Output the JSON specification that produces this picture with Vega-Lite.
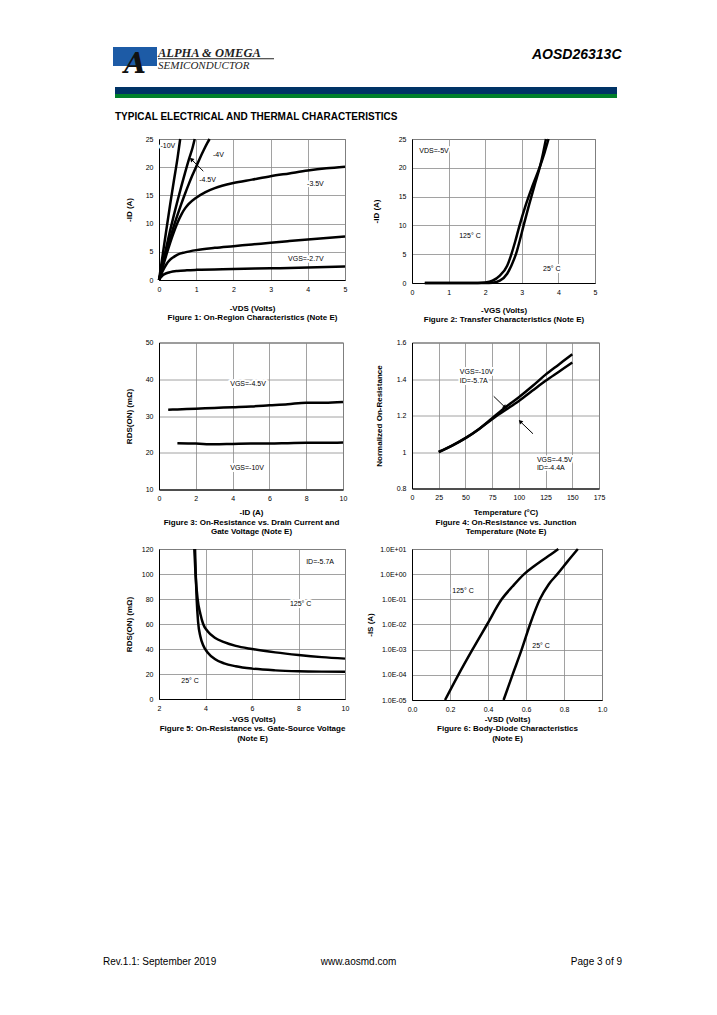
{
  "$schema": "https://vega.github.io/schema/vega-lite/v6.json",
  "background": "#ffffff",
  "padding": {"left": 102, "top": 46, "right": 0, "bottom": 0},
  "columns": 2,
  "bounds": "flush",
  "spacing": {"row": 59.5, "column": 67},
  "datasets": {
    "hRect": [
      {"part": "logo", "px": 112, "px2": 156, "py": 46, "py2": 65},
      {"part": "band1", "px": 114, "px2": 616, "py": 86, "py2": 93},
      {"part": "band2", "px": 114, "px2": 616, "py": 93, "py2": 97},
      {"part": "rule", "px": 157, "px2": 273, "py": 57.3, "py2": 58.3}
    ],
    "hText": [
      {"k": "logo", "t": "A", "px": 134, "py": 72},
      {"k": "alpha", "t": "ALPHA & OMEGA", "px": 157, "py": 56},
      {"k": "semi", "t": "SEMICONDUCTOR", "px": 157, "py": 68},
      {"k": "part", "t": "AOSD26313C", "px": 620.5, "py": 58.3},
      {"k": "title", "t": "TYPICAL ELECTRICAL AND THERMAL CHARACTERISTICS", "px": 114, "py": 118.5},
      {"k": "fl", "t": "Rev.1.1: September 2019", "px": 102, "py": 964},
      {"k": "fc", "t": "www.aosmd.com", "px": 357.5, "py": 964},
      {"k": "fr", "t": "Page 3 of 9", "px": 621, "py": 964}
    ],
    "f1": [
      {"s": "-10V", "x": 0, "y": 0}, {"s": "-10V", "x": 0.1, "y": 4.5}, {"s": "-10V", "x": 0.2, "y": 9}, {"s": "-10V", "x": 0.3, "y": 13.4}, {"s": "-10V", "x": 0.4, "y": 17.6}, {"s": "-10V", "x": 0.5, "y": 21.7}, {"s": "-10V", "x": 0.57, "y": 25},
      {"s": "-4.5V", "x": 0, "y": 0}, {"s": "-4.5V", "x": 0.1, "y": 3.0}, {"s": "-4.5V", "x": 0.2, "y": 5.9}, {"s": "-4.5V", "x": 0.3, "y": 8.8}, {"s": "-4.5V", "x": 0.4, "y": 11.5}, {"s": "-4.5V", "x": 0.5, "y": 14.1}, {"s": "-4.5V", "x": 0.6, "y": 16.6}, {"s": "-4.5V", "x": 0.7, "y": 19}, {"s": "-4.5V", "x": 0.8, "y": 21.3}, {"s": "-4.5V", "x": 0.9, "y": 23.4}, {"s": "-4.5V", "x": 0.96, "y": 25},
      {"s": "-4V", "x": 0, "y": 0}, {"s": "-4V", "x": 0.1, "y": 2.6}, {"s": "-4V", "x": 0.2, "y": 5.1}, {"s": "-4V", "x": 0.3, "y": 7.4}, {"s": "-4V", "x": 0.4, "y": 9.6}, {"s": "-4V", "x": 0.5, "y": 11.6}, {"s": "-4V", "x": 0.6, "y": 13.5}, {"s": "-4V", "x": 0.7, "y": 15.3}, {"s": "-4V", "x": 0.8, "y": 17}, {"s": "-4V", "x": 0.9, "y": 18.6}, {"s": "-4V", "x": 1.0, "y": 20.1}, {"s": "-4V", "x": 1.1, "y": 21.6}, {"s": "-4V", "x": 1.2, "y": 23}, {"s": "-4V", "x": 1.3, "y": 24.3}, {"s": "-4V", "x": 1.36, "y": 25},
      {"s": "-3.5V", "x": 0, "y": 0}, {"s": "-3.5V", "x": 0.1, "y": 2.3}, {"s": "-3.5V", "x": 0.2, "y": 4.5}, {"s": "-3.5V", "x": 0.3, "y": 6.6}, {"s": "-3.5V", "x": 0.4, "y": 8.5}, {"s": "-3.5V", "x": 0.5, "y": 10.2}, {"s": "-3.5V", "x": 0.6, "y": 11.6}, {"s": "-3.5V", "x": 0.7, "y": 12.7}, {"s": "-3.5V", "x": 0.8, "y": 13.5}, {"s": "-3.5V", "x": 1.0, "y": 14.6}, {"s": "-3.5V", "x": 1.25, "y": 15.6}, {"s": "-3.5V", "x": 1.5, "y": 16.3}, {"s": "-3.5V", "x": 2, "y": 17.2}, {"s": "-3.5V", "x": 2.5, "y": 17.8}, {"s": "-3.5V", "x": 3, "y": 18.4}, {"s": "-3.5V", "x": 3.5, "y": 18.9}, {"s": "-3.5V", "x": 4, "y": 19.4}, {"s": "-3.5V", "x": 4.5, "y": 19.8}, {"s": "-3.5V", "x": 5, "y": 20.1},
      {"s": "-3V", "x": 0, "y": 0}, {"s": "-3V", "x": 0.1, "y": 1.6}, {"s": "-3V", "x": 0.2, "y": 2.8}, {"s": "-3V", "x": 0.3, "y": 3.6}, {"s": "-3V", "x": 0.4, "y": 4.1}, {"s": "-3V", "x": 0.5, "y": 4.5}, {"s": "-3V", "x": 0.7, "y": 4.9}, {"s": "-3V", "x": 1, "y": 5.3}, {"s": "-3V", "x": 1.5, "y": 5.7}, {"s": "-3V", "x": 2, "y": 6.0}, {"s": "-3V", "x": 2.5, "y": 6.3}, {"s": "-3V", "x": 3, "y": 6.6}, {"s": "-3V", "x": 3.5, "y": 6.9}, {"s": "-3V", "x": 4, "y": 7.2}, {"s": "-3V", "x": 4.5, "y": 7.45}, {"s": "-3V", "x": 5, "y": 7.7},
      {"s": "-2.7V", "x": 0, "y": 0}, {"s": "-2.7V", "x": 0.05, "y": 0.5}, {"s": "-2.7V", "x": 0.1, "y": 0.85}, {"s": "-2.7V", "x": 0.2, "y": 1.2}, {"s": "-2.7V", "x": 0.3, "y": 1.4}, {"s": "-2.7V", "x": 0.5, "y": 1.6}, {"s": "-2.7V", "x": 0.75, "y": 1.72}, {"s": "-2.7V", "x": 1, "y": 1.8}, {"s": "-2.7V", "x": 2, "y": 1.95}, {"s": "-2.7V", "x": 3, "y": 2.07}, {"s": "-2.7V", "x": 4, "y": 2.2}, {"s": "-2.7V", "x": 5, "y": 2.38}
    ],
    "f1lab": [
      {"t": "-10V", "x": 0.04, "y": 23.8},
      {"t": "-4V", "x": 1.45, "y": 22.2},
      {"t": "-4.5V", "x": 1.08, "y": 17.8},
      {"t": "-3.5V", "x": 3.98, "y": 17.0},
      {"t": "VGS=-2.7V", "x": 3.47, "y": 3.7}
    ],
    "f1arr": [
      {"x": 0.87, "y": 21.4, "x2": 1.19, "y2": 19.3, "dir": "ul"}
    ],
    "f2": [
      {"s": "125C", "x": 0.35, "y": 0}, {"s": "125C", "x": 1.0, "y": 0}, {"s": "125C", "x": 1.8, "y": 0}, {"s": "125C", "x": 2.0, "y": 0.08}, {"s": "125C", "x": 2.2, "y": 0.4}, {"s": "125C", "x": 2.4, "y": 1.3}, {"s": "125C", "x": 2.6, "y": 3.0}, {"s": "125C", "x": 2.71, "y": 4.9}, {"s": "125C", "x": 2.82, "y": 7.2}, {"s": "125C", "x": 2.93, "y": 9.8}, {"s": "125C", "x": 3.1, "y": 13.4}, {"s": "125C", "x": 3.3, "y": 17}, {"s": "125C", "x": 3.5, "y": 20.3}, {"s": "125C", "x": 3.62, "y": 22.6}, {"s": "125C", "x": 3.73, "y": 25},
      {"s": "25C", "x": 0.35, "y": 0}, {"s": "25C", "x": 1.0, "y": 0}, {"s": "25C", "x": 2.0, "y": 0}, {"s": "25C", "x": 2.2, "y": 0.05}, {"s": "25C", "x": 2.4, "y": 0.4}, {"s": "25C", "x": 2.6, "y": 1.6}, {"s": "25C", "x": 2.72, "y": 3.1}, {"s": "25C", "x": 2.84, "y": 5}, {"s": "25C", "x": 2.95, "y": 7.5}, {"s": "25C", "x": 3.05, "y": 10}, {"s": "25C", "x": 3.2, "y": 13.6}, {"s": "25C", "x": 3.35, "y": 17}, {"s": "25C", "x": 3.5, "y": 20.3}, {"s": "25C", "x": 3.58, "y": 22.5}, {"s": "25C", "x": 3.66, "y": 25}
    ],
    "f2lab": [
      {"t": "VDS=-5V", "x": 0.2, "y": 23.0},
      {"t": "125° C", "x": 1.29, "y": 8.1},
      {"t": "25° C", "x": 3.58, "y": 2.5}
    ],
    "f3": [
      {"s": "-4.5V", "x": 0.5, "y": 31.7}, {"s": "-4.5V", "x": 1, "y": 31.8}, {"s": "-4.5V", "x": 2, "y": 32.0}, {"s": "-4.5V", "x": 3, "y": 32.2}, {"s": "-4.5V", "x": 4, "y": 32.4}, {"s": "-4.5V", "x": 5, "y": 32.6}, {"s": "-4.5V", "x": 6, "y": 32.9}, {"s": "-4.5V", "x": 7, "y": 33.2}, {"s": "-4.5V", "x": 8, "y": 33.6}, {"s": "-4.5V", "x": 9, "y": 33.6}, {"s": "-4.5V", "x": 10, "y": 33.8},
      {"s": "-10V", "x": 1, "y": 22.6}, {"s": "-10V", "x": 2, "y": 22.5}, {"s": "-10V", "x": 3, "y": 22.3}, {"s": "-10V", "x": 4, "y": 22.4}, {"s": "-10V", "x": 5, "y": 22.5}, {"s": "-10V", "x": 6, "y": 22.5}, {"s": "-10V", "x": 7, "y": 22.6}, {"s": "-10V", "x": 8, "y": 22.7}, {"s": "-10V", "x": 9, "y": 22.7}, {"s": "-10V", "x": 10, "y": 22.8}
    ],
    "f3lab": [
      {"t": "VGS=-4.5V", "x": 3.87, "y": 38.8},
      {"t": "VGS=-10V", "x": 3.87, "y": 15.8}
    ],
    "f4": [
      {"s": "-10V", "x": 25, "y": 1.0}, {"s": "-10V", "x": 37.5, "y": 1.035}, {"s": "-10V", "x": 50, "y": 1.076}, {"s": "-10V", "x": 62.5, "y": 1.125}, {"s": "-10V", "x": 75, "y": 1.185}, {"s": "-10V", "x": 87.5, "y": 1.245}, {"s": "-10V", "x": 100, "y": 1.3}, {"s": "-10V", "x": 112.5, "y": 1.36}, {"s": "-10V", "x": 125, "y": 1.424}, {"s": "-10V", "x": 137.5, "y": 1.48}, {"s": "-10V", "x": 150, "y": 1.536},
      {"s": "-4.5V", "x": 25, "y": 1.0}, {"s": "-4.5V", "x": 37.5, "y": 1.035}, {"s": "-4.5V", "x": 50, "y": 1.076}, {"s": "-4.5V", "x": 62.5, "y": 1.125}, {"s": "-4.5V", "x": 75, "y": 1.18}, {"s": "-4.5V", "x": 87.5, "y": 1.23}, {"s": "-4.5V", "x": 100, "y": 1.28}, {"s": "-4.5V", "x": 112.5, "y": 1.335}, {"s": "-4.5V", "x": 125, "y": 1.39}, {"s": "-4.5V", "x": 137.5, "y": 1.44}, {"s": "-4.5V", "x": 150, "y": 1.49}
    ],
    "f4lab": [
      {"t": "VGS=-10V", "x": 44.8, "y": 1.436},
      {"t": "ID=-5.7A", "x": 44.8, "y": 1.389},
      {"t": "VGS=-4.5V", "x": 116.9, "y": 0.958},
      {"t": "ID=-4.4A", "x": 116.9, "y": 0.913}
    ],
    "f4arr": [
      {"x": 87.1, "y": 1.245, "x2": 76.5, "y2": 1.305, "dir": "dr"},
      {"x": 101.3, "y": 1.167, "x2": 113.2, "y2": 1.1, "dir": "ul"}
    ],
    "f5": [
      {"s": "125C", "x": 3.52, "y": 120}, {"s": "125C", "x": 3.57, "y": 100}, {"s": "125C", "x": 3.66, "y": 80}, {"s": "125C", "x": 3.78, "y": 68}, {"s": "125C", "x": 3.9, "y": 60}, {"s": "125C", "x": 4.1, "y": 54}, {"s": "125C", "x": 4.4, "y": 49}, {"s": "125C", "x": 4.8, "y": 45.5}, {"s": "125C", "x": 5.3, "y": 42.5}, {"s": "125C", "x": 6, "y": 40}, {"s": "125C", "x": 7, "y": 37.3}, {"s": "125C", "x": 8, "y": 35.2}, {"s": "125C", "x": 9, "y": 33.5}, {"s": "125C", "x": 10, "y": 32.3},
      {"s": "25C", "x": 3.55, "y": 120}, {"s": "25C", "x": 3.58, "y": 100}, {"s": "25C", "x": 3.62, "y": 80}, {"s": "25C", "x": 3.68, "y": 62}, {"s": "25C", "x": 3.78, "y": 50}, {"s": "25C", "x": 3.9, "y": 43}, {"s": "25C", "x": 4.1, "y": 37}, {"s": "25C", "x": 4.4, "y": 32}, {"s": "25C", "x": 4.8, "y": 28.5}, {"s": "25C", "x": 5.3, "y": 26.2}, {"s": "25C", "x": 6, "y": 24.3}, {"s": "25C", "x": 7, "y": 22.9}, {"s": "25C", "x": 8, "y": 22.2}, {"s": "25C", "x": 9, "y": 21.9}, {"s": "25C", "x": 10, "y": 21.8}
    ],
    "f5lab": [
      {"t": "ID=-5.7A", "x": 8.33, "y": 109.5},
      {"t": "125° C", "x": 7.63, "y": 75.9},
      {"t": "25° C", "x": 2.96, "y": 14.5}
    ],
    "f6": [
      {"s": "125C", "x": 0.174, "y": 0.00001}, {"s": "125C", "x": 0.244, "y": 0.0001}, {"s": "125C", "x": 0.318, "y": 0.001}, {"s": "125C", "x": 0.395, "y": 0.01}, {"s": "125C", "x": 0.472, "y": 0.1}, {"s": "125C", "x": 0.53, "y": 0.33}, {"s": "125C", "x": 0.59, "y": 1}, {"s": "125C", "x": 0.64, "y": 2}, {"s": "125C", "x": 0.682, "y": 3.4}, {"s": "125C", "x": 0.73, "y": 6}, {"s": "125C", "x": 0.77, "y": 10},
      {"s": "25C", "x": 0.482, "y": 0.00001}, {"s": "25C", "x": 0.529, "y": 0.0001}, {"s": "25C", "x": 0.577, "y": 0.001}, {"s": "25C", "x": 0.621, "y": 0.01}, {"s": "25C", "x": 0.673, "y": 0.1}, {"s": "25C", "x": 0.72, "y": 0.4}, {"s": "25C", "x": 0.765, "y": 1}, {"s": "25C", "x": 0.82, "y": 3.3}, {"s": "25C", "x": 0.873, "y": 10}
    ],
    "f6lab": [
      {"t": "125° C", "x": 0.212, "y": 0.21},
      {"t": "25° C", "x": 0.633, "y": 0.00136}
    ]
  },
  "concat": [
    {
      "width": 186, "height": 141,
      "resolve": {"scale": {"x": "independent", "y": "independent"}},
      "layer": [
        {
          "encoding": {
            "x": {"field": "x", "type": "quantitative", "scale": {"domain": [0, 5], "nice": false, "zero": false}, "axis": {"values": [0, 1, 2, 3, 4, 5], "title": ["-VDS (Volts)", "Figure 1: On-Region Characteristics (Note E)"], "titlePadding": 12}},
            "y": {"field": "y", "type": "quantitative", "scale": {"domain": [0, 25], "nice": false}, "axis": {"values": [0, 5, 10, 15, 20, 25], "title": "-ID (A)", "titlePadding": 12}}
          },
          "layer": [
            {"data": {"name": "f1"}, "mark": {"type": "line", "color": "#000", "strokeWidth": 2.5, "interpolate": "monotone"}, "encoding": {"detail": {"field": "s"}}},
            {"data": {"name": "f1lab"}, "encoding": {"text": {"field": "t"}}, "layer": [
              {"mark": {"type": "text", "align": "left", "baseline": "middle", "fontSize": 7, "color": "#fff", "stroke": "#fff", "strokeWidth": 4, "strokeJoin": "round"}},
              {"mark": {"type": "text", "align": "left", "baseline": "middle", "fontSize": 7, "color": "#000"}}
            ]},
            {"data": {"name": "f1arr"}, "layer": [
              {"mark": {"type": "rule", "color": "#000", "strokeWidth": 1}, "encoding": {"x2": {"field": "x2"}, "y2": {"field": "y2"}}},
              {"mark": {"type": "point", "shape": "triangle-up", "filled": true, "color": "#000", "size": 22, "opacity": 1}, "encoding": {"angle": {"field": "dir", "type": "nominal", "scale": {"domain": ["ul", "dr"], "range": [315, 135]}, "legend": null}}}
            ]}
          ]
        },
        {
          "encoding": {
            "x": {"field": "px", "type": "quantitative", "scale": {"domain": [158, 344], "nice": false, "zero": false}, "axis": null},
            "y": {"field": "py", "type": "quantitative", "scale": {"domain": [138, 279], "nice": false, "zero": false, "reverse": true}, "axis": null}
          },
          "layer": [
            {"data": {"name": "hRect"}, "mark": {"type": "rect"}, "encoding": {"x2": {"field": "px2"}, "y2": {"field": "py2"}, "color": {"field": "part", "type": "nominal", "scale": {"domain": ["logo", "band1", "band2", "rule"], "range": ["#1d5ba6", "#003366", "#00802b", "#222222"]}, "legend": null}}},
            {"data": {"name": "hText"}, "encoding": {"text": {"field": "t"}}, "layer": [
              {"transform": [{"filter": "datum.k == 'logo'"}], "mark": {"type": "text", "font": "DejaVu Serif", "fontStyle": "italic", "fontWeight": "bold", "fontSize": 28, "align": "center", "baseline": "alphabetic", "color": "#111"}},
              {"transform": [{"filter": "datum.k == 'alpha'"}], "mark": {"type": "text", "font": "Liberation Serif", "fontStyle": "italic", "fontWeight": "bold", "fontSize": 12.5, "align": "left", "baseline": "alphabetic", "color": "#222"}},
              {"transform": [{"filter": "datum.k == 'semi'"}], "mark": {"type": "text", "font": "Liberation Serif", "fontStyle": "italic", "fontSize": 11, "align": "left", "baseline": "alphabetic", "color": "#222"}},
              {"transform": [{"filter": "datum.k == 'part'"}], "mark": {"type": "text", "font": "Liberation Sans", "fontStyle": "italic", "fontWeight": "bold", "fontSize": 14, "align": "right", "baseline": "alphabetic", "color": "#000"}},
              {"transform": [{"filter": "datum.k == 'title'"}], "mark": {"type": "text", "font": "Liberation Sans", "fontWeight": "bold", "fontSize": 10, "align": "left", "baseline": "alphabetic", "color": "#000"}},
              {"transform": [{"filter": "datum.k == 'fl'"}], "mark": {"type": "text", "fontSize": 10, "align": "left", "baseline": "alphabetic", "color": "#000"}},
              {"transform": [{"filter": "datum.k == 'fc'"}], "mark": {"type": "text", "fontSize": 10, "align": "center", "baseline": "alphabetic", "color": "#000"}},
              {"transform": [{"filter": "datum.k == 'fr'"}], "mark": {"type": "text", "fontSize": 10, "align": "right", "baseline": "alphabetic", "color": "#000"}}
            ]}
          ]
        }
      ]
    },
    {
      "width": 183, "height": 144,
      "encoding": {
        "x": {"field": "x", "type": "quantitative", "scale": {"domain": [0, 5], "nice": false, "zero": false}, "axis": {"values": [0, 1, 2, 3, 4, 5], "title": ["-VGS (Volts)", "Figure 2: Transfer Characteristics (Note E)"], "titlePadding": 11}},
        "y": {"field": "y", "type": "quantitative", "scale": {"domain": [0, 25], "nice": false}, "axis": {"values": [0, 5, 10, 15, 20, 25], "title": "-ID (A)", "titlePadding": 18}}
      },
      "layer": [
        {"data": {"name": "f2"}, "mark": {"type": "line", "color": "#000", "strokeWidth": 2.5, "interpolate": "monotone"}, "encoding": {"detail": {"field": "s"}}},
        {"data": {"name": "f2lab"}, "encoding": {"text": {"field": "t"}}, "layer": [
          {"mark": {"type": "text", "align": "left", "baseline": "middle", "fontSize": 7, "color": "#fff", "stroke": "#fff", "strokeWidth": 4, "strokeJoin": "round"}},
          {"mark": {"type": "text", "align": "left", "baseline": "middle", "fontSize": 7, "color": "#000"}}
        ]}
      ]
    },
    {
      "width": 184, "height": 147,
      "encoding": {
        "x": {"field": "x", "type": "quantitative", "scale": {"domain": [0, 10], "nice": false, "zero": false}, "axis": {"values": [0, 2, 4, 6, 8, 10], "title": ["-ID (A)", "Figure 3: On-Resistance vs. Drain Current and", "Gate Voltage (Note E)"], "titlePadding": 7}},
        "y": {"field": "y", "type": "quantitative", "scale": {"domain": [10, 50], "nice": false, "zero": false}, "axis": {"values": [10, 20, 30, 40, 50], "title": "RDS(ON) (mΩ)", "titlePadding": 12}}
      },
      "layer": [
        {"data": {"name": "f3"}, "mark": {"type": "line", "color": "#000", "strokeWidth": 2.5, "interpolate": "monotone"}, "encoding": {"detail": {"field": "s"}}},
        {"data": {"name": "f3lab"}, "encoding": {"text": {"field": "t"}}, "layer": [
          {"mark": {"type": "text", "align": "left", "baseline": "middle", "fontSize": 7, "color": "#fff", "stroke": "#fff", "strokeWidth": 4, "strokeJoin": "round"}},
          {"mark": {"type": "text", "align": "left", "baseline": "middle", "fontSize": 7, "color": "#000"}}
        ]}
      ]
    },
    {
      "width": 187, "height": 146,
      "encoding": {
        "x": {"field": "x", "type": "quantitative", "scale": {"domain": [0, 175], "nice": false, "zero": false}, "axis": {"values": [0, 25, 50, 75, 100, 125, 150, 175], "title": ["Temperature (°C)", "Figure 4: On-Resistance vs. Junction", "Temperature (Note E)"], "titlePadding": 8}},
        "y": {"field": "y", "type": "quantitative", "scale": {"domain": [0.8, 1.6], "nice": false, "zero": false}, "axis": {"values": [0.8, 1, 1.2, 1.4, 1.6], "format": "~g", "title": "Normalized On-Resistance", "titlePadding": 13}}
      },
      "layer": [
        {"data": {"name": "f4"}, "mark": {"type": "line", "color": "#000", "strokeWidth": 2.5, "interpolate": "monotone"}, "encoding": {"detail": {"field": "s"}}},
        {"data": {"name": "f4lab"}, "encoding": {"text": {"field": "t"}}, "layer": [
          {"mark": {"type": "text", "align": "left", "baseline": "middle", "fontSize": 7, "color": "#fff", "stroke": "#fff", "strokeWidth": 4, "strokeJoin": "round"}},
          {"mark": {"type": "text", "align": "left", "baseline": "middle", "fontSize": 7, "color": "#000"}}
        ]},
        {"data": {"name": "f4arr"}, "layer": [
          {"mark": {"type": "rule", "color": "#000", "strokeWidth": 1}, "encoding": {"x2": {"field": "x2"}, "y2": {"field": "y2"}}},
          {"mark": {"type": "point", "shape": "triangle-up", "filled": true, "color": "#000", "size": 22, "opacity": 1}, "encoding": {"angle": {"field": "dir", "type": "nominal", "scale": {"domain": ["ul", "dr"], "range": [315, 135]}, "legend": null}}}
        ]}
      ]
    },
    {
      "width": 186, "height": 150,
      "encoding": {
        "x": {"field": "x", "type": "quantitative", "scale": {"domain": [2, 10], "nice": false, "zero": false}, "axis": {"values": [2, 4, 6, 8, 10], "title": ["-VGS (Volts)", "Figure 5: On-Resistance vs. Gate-Source Voltage", "(Note E)"], "titlePadding": 4}},
        "y": {"field": "y", "type": "quantitative", "scale": {"domain": [0, 120], "nice": false}, "axis": {"values": [0, 20, 40, 60, 80, 100, 120], "title": "RDS(ON) (mΩ)", "titlePadding": 8}}
      },
      "layer": [
        {"data": {"name": "f5"}, "mark": {"type": "line", "color": "#000", "strokeWidth": 2.5, "interpolate": "monotone"}, "encoding": {"detail": {"field": "s"}}},
        {"data": {"name": "f5lab"}, "encoding": {"text": {"field": "t"}}, "layer": [
          {"mark": {"type": "text", "align": "left", "baseline": "middle", "fontSize": 7, "color": "#fff", "stroke": "#fff", "strokeWidth": 4, "strokeJoin": "round"}},
          {"mark": {"type": "text", "align": "left", "baseline": "middle", "fontSize": 7, "color": "#000"}}
        ]}
      ]
    },
    {
      "width": 190, "height": 151,
      "encoding": {
        "x": {"field": "x", "type": "quantitative", "scale": {"domain": [0, 1], "nice": false, "zero": false}, "axis": {"values": [0, 0.2, 0.4, 0.6, 0.8, 1], "format": ".1f", "title": ["-VSD (Volts)", "Figure 6: Body-Diode Characteristics", "(Note E)"], "titlePadding": 3}},
        "y": {"field": "y", "type": "quantitative", "scale": {"type": "log", "domain": [0.00001, 10], "nice": false}, "axis": {"values": [0.00001, 0.0001, 0.001, 0.01, 0.1, 1, 10], "labelExpr": "'1.0E' + (datum.value >= 1 ? '+' : '-') + '0' + abs(round(log(datum.value) / LN10))", "title": "-IS (A)", "titlePadding": 5}}
      },
      "layer": [
        {"data": {"name": "f6"}, "mark": {"type": "line", "color": "#000", "strokeWidth": 2.5, "interpolate": "monotone"}, "encoding": {"detail": {"field": "s"}}},
        {"data": {"name": "f6lab"}, "encoding": {"text": {"field": "t"}}, "layer": [
          {"mark": {"type": "text", "align": "left", "baseline": "middle", "fontSize": 7, "color": "#fff", "stroke": "#fff", "strokeWidth": 4, "strokeJoin": "round"}},
          {"mark": {"type": "text", "align": "left", "baseline": "middle", "fontSize": 7, "color": "#000"}}
        ]}
      ]
    }
  ],
  "config": {
    "font": "Liberation Sans",
    "view": {"stroke": "#555555", "strokeWidth": 1},
    "axis": {
      "labelFont": "Liberation Sans", "labelFontSize": 7, "labelColor": "#000",
      "titleFont": "Liberation Sans", "titleFontSize": 8, "titleFontWeight": "bold", "titleColor": "#000", "titleLineHeight": 9.5,
      "ticks": false, "domain": true, "domainColor": "#000", "domainWidth": 1,
      "gridColor": "#8a8a8a", "gridWidth": 0.8, "labelPadding": 6,
      "labelOverlap": false, "labelFlush": false, "labelBound": false
    },
    "axisX": {"labelPadding": 5},
    "text": {"font": "Liberation Sans"}
  }
}
